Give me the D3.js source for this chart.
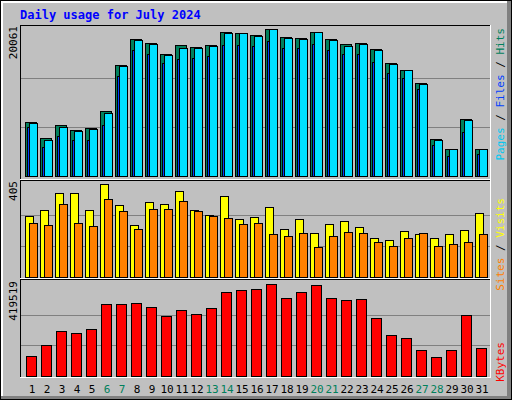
<!DOCTYPE html>
<html>
<head>
<script src="https://d3js.org/d3.v7.min.js"></script>
<style>
  body { margin: 0; background: #fff; }
  svg text { font-family: "DejaVu Sans Mono", monospace; }
</style>
</head>
<body>
<div id="chart"></div>
<script>
var days = d3.range(1, 32);
var weekends = [6, 7, 13, 14, 20, 21, 27, 28];
var hits = [7370,5187,6960,6278,6551,8871,15149,18697,18151,16650,17878,17605,17878,19652,19516,19243,20061,18970,18833,19652,18697,18014,18151,17332,15422,14466,12692,5050,3685,7779,3685];
var files = [7165,4914,6755,6142,6415,8598,15013,18561,18015,16514,17469,17469,17742,19516,19516,19107,20061,18833,18697,19652,18561,17742,18015,17196,15286,14466,12556,4914,3685,7643,3685];
var pages = [6689,3959,5460,4914,4914,6962,13650,17199,16653,15425,15971,16107,16380,17882,17882,17745,18428,17472,17472,18018,17199,16653,16653,15561,14060,13377,11876,4232,2730,6006,3003];
var visits = [266,292,366,366,292,405,314,226,327,318,375,292,270,353,253,261,305,209,253,192,231,244,218,170,161,200,187,170,187,205,279];
var sites = [235,226,318,235,222,340,287,209,296,296,331,287,266,257,231,235,187,179,192,131,179,196,192,152,135,170,192,135,144,152,187];
var kbytes = [91200,141360,205200,196080,214320,328320,328320,332880,314640,273600,300960,282720,310080,383040,392160,396720,419519,355680,383040,414960,355680,346560,351120,264480,186960,173280,118560,86640,118560,278160,127680];

var svg = d3.select("#chart").append("svg")
  .attr("width", 512).attr("height", 400)
  .attr("shape-rendering", "crispEdges");

// background with bevel
svg.append("rect").attr("x", 0).attr("y", 0).attr("width", 512).attr("height", 400).attr("fill", "#000");
svg.append("rect").attr("x", 1).attr("y", 1).attr("width", 510).attr("height", 398).attr("fill", "#808080");
svg.append("rect").attr("x", 1).attr("y", 1).attr("width", 506).attr("height", 395).attr("fill", "#fff");
svg.append("rect").attr("x", 3).attr("y", 3).attr("width", 504).attr("height", 393).attr("fill", "#c0c0c0");

svg.append("text").attr("x", 20).attr("y", 19)
  .attr("fill", "#0000ff").attr("font-weight", "bold").attr("font-size", 12)
  .text("Daily usage for July 2024");

var x = d3.scaleLinear().domain([1, 31]).range([25, 475]);

var panels = [
  {top: 25, bottom: 180, y: d3.scaleLinear().domain([0, 20061]).range([176, 29]), max: 20061},
  {top: 180, bottom: 279, y: d3.scaleLinear().domain([0, 405]).range([277, 184]), max: 405},
  {top: 279, bottom: 378, y: d3.scaleLinear().domain([0, 419519]).range([376, 284]), max: 419519}
];

panels.forEach(function(p, i) {
  var g = svg.append("g");
  // frame: black top/left, white bottom/right
  g.append("line").attr("x1", 20).attr("x2", 490).attr("y1", p.top + 0.5).attr("y2", p.top + 0.5).attr("stroke", "#000");
  g.append("line").attr("x1", 20.5).attr("x2", 20.5).attr("y1", p.top).attr("y2", p.bottom).attr("stroke", "#000");
  g.append("line").attr("x1", 20).attr("x2", 491).attr("y1", p.bottom - 0.5).attr("y2", p.bottom - 0.5).attr("stroke", "#fff");
  g.append("line").attr("x1", 490.5).attr("x2", 490.5).attr("y1", p.top).attr("y2", p.bottom).attr("stroke", "#fff");
  // gridlines at 1/3, 2/3
  [p.max / 3, p.max * 2 / 3].forEach(function(v) {
    var yy = Math.round(p.y(v)) + 0.5;
    g.append("line").attr("x1", 21).attr("x2", 490).attr("y1", yy).attr("y2", yy).attr("stroke", "#808080");
  });
  // max label
  var ly = p.y(p.max) - 3;
  g.append("text").attr("transform", "translate(17," + ly + ") rotate(-90)")
    .attr("text-anchor", "end").attr("font-size", 11).attr("fill", "#000")
    .text(p.max);
});

function bars(data, panel, dx, w, color) {
  svg.append("g").selectAll("rect").data(data).enter().append("rect")
    .attr("x", function(d, i) { return x(days[i]) + dx + 0.5; })
    .attr("y", function(d) { return Math.round(panel.y(d)) + 0.5; })
    .attr("width", w)
    .attr("height", function(d) { return Math.round(panel.y(0) - panel.y(d)); })
    .attr("fill", color).attr("stroke", "#000");
}

bars(hits, panels[0], 0, 11, "#00805c");
bars(pages, panels[0], 2, 4, "#0040ff");
bars(files, panels[0], 4, 8, "#00e0ff");
bars(visits, panels[1], 0, 8, "#ffff00");
bars(sites, panels[1], 4, 8, "#ff8000");
bars(kbytes, panels[2], 1, 10, "#ff0000");

// day labels
svg.append("g").selectAll("text").data(days).enter().append("text")
  .attr("x", function(d) { return x(d) + 7; })
  .attr("y", 393)
  .attr("text-anchor", "middle").attr("font-size", 11)
  .attr("fill", function(d) { return weekends.indexOf(d) >= 0 ? "#00805c" : "#000"; })
  .text(function(d) { return d; });

// right side legends
function legend(items, yEnd) {
  var t = svg.append("text").attr("transform", "translate(504," + yEnd + ") rotate(-90)")
    .attr("text-anchor", "end").attr("font-size", 11);
  items.forEach(function(it) {
    t.append("tspan").attr("fill", it[1]).text(it[0]);
  });
}
legend([["Pages", "#00c8f0"], [" / ", "#000"], ["Files", "#0040ff"], [" / ", "#000"], ["Hits", "#00805c"]], 28);
legend([["Sites", "#ff8000"], [" / ", "#000"], ["Visits", "#ffff00"]], 198);
legend([["KBytes", "#ff0000"]], 342);
</script>
</body>
</html>
